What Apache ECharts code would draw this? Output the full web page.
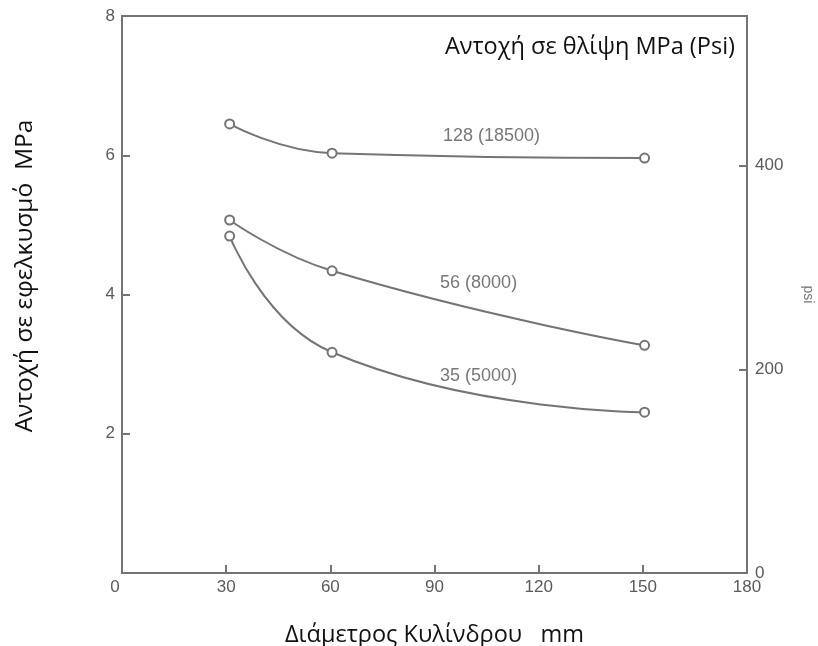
<!DOCTYPE html>
<html>
<head>
<meta charset="utf-8">
<script src="https://cdn.jsdelivr.net/npm/echarts@6/dist/echarts.min.js"></script>
<style>
html,body{margin:0;padding:0;background:#fff;}
#chart{width:818px;height:646px;}
</style>
</head>
<body>
<div id="chart"></div>
<script>
// Data
const diameters = [31, 60.5, 150.5];            // mm
const s128 = [6.45, 6.03, 5.96];                 // MPa, compressive 128 MPa
const s56  = [5.07, 4.34, 3.27];                 // MPa, compressive 56 MPa
const s35  = [4.84, 3.17, 2.31];                 // MPa, compressive 35 MPa
const curveLabels = ['128 (18500)', '56 (8000)', '35 (5000)'];
const curveLabelX = [106.4, 102.7, 102.7];
const curveLabelY = [6.27, 4.17, 2.83];
const xTicks = [0, 30, 60, 90, 120, 150, 180];
const mpaTicks = [0, 2, 4, 6, 8];
const psiTicks = [0, 200, 400];

const gray = '#747474';
const labelGray = '#5a5a5a';
const numFont = '"Liberation Sans", Arial, sans-serif';
const txtFont = '"Open Sans", "Noto Sans", sans-serif';

function pts(ys){ return diameters.map((x,i)=>[x, ys[i]]); }

const lineStyleCommon = {
  type: 'line', smooth: 0.5, symbol: 'emptyCircle', symbolSize: 9,
  lineStyle: {color: gray, width: 2},
  itemStyle: {color: gray, borderColor: gray, borderWidth: 1.5},
  silent: true, animation: false
};

const chart = echarts.init(document.getElementById('chart'), null, {renderer: 'canvas'});
chart.setOption({
  backgroundColor: '#fff',
  animation: false,
  grid: {left: 122, right: 71, top: 16, bottom: 73, containLabel: false, outerBoundsMode: 'none',
    show: true, borderColor: gray, borderWidth: 2, backgroundColor: 'transparent'},
  title: {
    text: 'Αντοχή σε θλίψη MPa (Psi)',
    right: 78, top: 30,
    textStyle: {fontFamily: txtFont, fontSize: 23.5, fontWeight: 'normal', color: '#111'}
  },
  graphic: [{
    type: 'text', x: 25, y: 276, rotation: Math.PI / 2, silent: true,
    style: {text: 'Αντοχή σε εφελκυσμό  MPa', fontFamily: txtFont, fontSize: 24.5, fill: '#111',
      align: 'center', verticalAlign: 'middle'}
  }],
  xAxis: {
    type: 'value', min: xTicks[0], max: xTicks[xTicks.length-1], interval: 30,
    name: 'Διάμετρος Κυλίνδρου   mm', nameLocation: 'middle', nameGap: 50,
    nameTextStyle: {fontFamily: txtFont, fontSize: 23.5, color: '#111'},
    axisLine: {lineStyle: {color: gray, width: 2}},
    axisTick: {inside: true, length: 8, lineStyle: {color: gray, width: 2}},
    axisLabel: {color: labelGray, fontFamily: numFont, fontSize: 17, margin: 6,
      formatter: v => v === 0 ? '{z|0}' : String(v),
      rich: {z: {color: labelGray, fontFamily: numFont, fontSize: 17, padding: [0, 14, 0, 0]}}},
    splitLine: {show: false}
  },
  yAxis: [{
    type: 'value', min: mpaTicks[0], max: mpaTicks[mpaTicks.length-1], interval: 2,
    axisLine: {lineStyle: {color: gray, width: 2}},
    axisTick: {inside: true, length: 8, lineStyle: {color: gray, width: 2}},
    axisLabel: {color: labelGray, fontFamily: numFont, fontSize: 17, margin: 7, showMinLabel: false},
    splitLine: {show: false}
  }, {
    type: 'value', position: 'right', min: psiTicks[0], max: 547, interval: 200,
    name: 'psi', nameLocation: 'middle', nameGap: 54, nameRotate: -90,
    nameTextStyle: {fontFamily: numFont, fontSize: 14, color: '#777'},
    axisLine: {show: true, lineStyle: {color: gray, width: 2}},
    axisTick: {show: true, inside: true, length: 8, lineStyle: {color: gray, width: 2}},
    axisLabel: {color: labelGray, fontFamily: numFont, fontSize: 17, margin: 8, showMaxLabel: false},
    splitLine: {show: false}
  }],
  series: [
    Object.assign({}, lineStyleCommon, {name: '128', data: pts(s128)}),
    Object.assign({}, lineStyleCommon, {name: '56', data: pts(s56)}),
    Object.assign({}, lineStyleCommon, {name: '35', data: pts(s35)}),
    {
      type: 'scatter', symbolSize: 0, silent: true, animation: false,
      data: curveLabels.map((t,i)=>({value: [curveLabelX[i], curveLabelY[i]], name: t})),
      label: {show: true, position: 'inside', formatter: p => p.name,
        color: '#555', fontFamily: numFont, fontSize: 18}
    }
  ]
});
</script>
</body>
</html>
